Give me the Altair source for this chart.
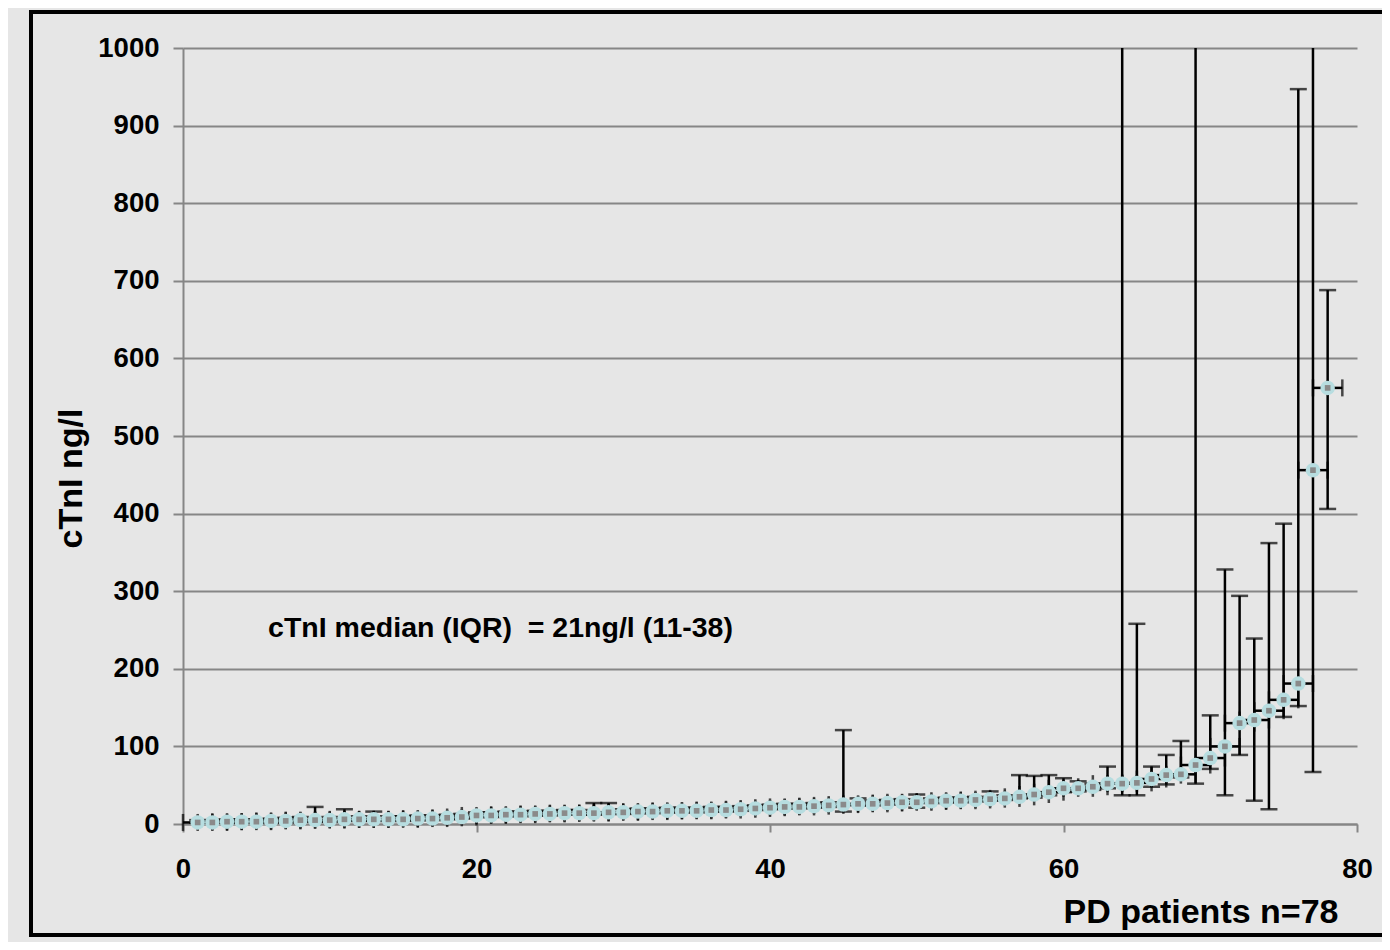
import altair as alt
import pandas as pd

# ---- data (sorted cTnI values per PD patient) ----
patients = list(range(1, 79))
ctni = [2, 2, 3, 3, 3, 4, 4, 5, 5, 5,
        6, 6, 6, 6, 6, 7, 7, 8, 9, 11,
        11, 12, 12, 13, 13, 14, 14, 14, 15, 15,
        16, 16, 17, 17, 17, 18, 18, 19, 20, 21,
        22, 22, 23, 24, 25, 26, 26, 27, 28, 28,
        29, 30, 30, 31, 32, 33, 35, 38, 41, 46,
        46, 48, 52, 52, 53, 58, 63, 64, 76, 85,
        100, 130, 134, 146, 160, 181, 456, 562]
err_low = [0, 0, 1, 1, 1, 2, 2, 3, 3, 3,
           4, 4, 4, 4, 4, 5, 5, 6, 7, 9,
           9, 10, 10, 11, 11, 12, 12, 12, 13, 13,
           14, 14, 15, 15, 15, 16, 16, 17, 18, 19,
           20, 20, 21, 22, 16, 24, 24, 25, 26, 21,
           27, 28, 28, 29, 30, 31, 33, 34, 37, 41,
           42, 44, 46, 37, 37, 48, 51, 60, 52, 71,
           37, 89, 30, 19, 138, 152, 67, 406]
err_high = [5, 5, 6, 6, 6, 7, 8, 9, 22, 9,
            19, 10, 16, 10, 10, 11, 11, 12, 13, 15,
            15, 16, 16, 17, 17, 18, 18, 27, 27, 19,
            20, 20, 21, 21, 21, 22, 22, 23, 24, 25,
            26, 26, 27, 28, 121, 33, 30, 31, 32, 38,
            33, 34, 34, 35, 42, 37, 63, 62, 63, 59,
            55, 52, 74, 1500, 258, 74, 89, 107, 1500, 140,
            328, 294, 239, 362, 387, 947, 1500, 688]
x_error = 1  # fixed horizontal error bar (patients)

y_ticks = [0, 100, 200, 300, 400, 500, 600, 700, 800, 900, 1000]
x_ticks = [0, 20, 40, 60, 80]
annotation = "cTnI median (IQR) \u00a0= 21ng/l (11-38)"

df = pd.DataFrame({"patient": patients, "ctni": ctni,
                   "lo": err_low, "hi": err_high})

FONT = "Liberation Sans"
GRID = "#868686"
BLUE = "#b7dde0"
BW = 2.5

xs = alt.Scale(domain=[0, 80], nice=False, zero=False)
ys = alt.Scale(domain=[0, 1000], nice=False)

x_axis = alt.Axis(values=x_ticks, title="PD patients n=78", grid=False,
                  tickSize=8, labelPadding=23, labelFlush=False,
                  labelOverlap=False, titleAlign="right",
                  titleBaseline="alphabetic", titleX=1155, titleY=98,
                  titleFontSize=34, titleFontWeight="bold", titleAngle=0)
y_axis = alt.Axis(values=y_ticks, title="cTnI ng/l", grid=True, format="d",
                  tickSize=10, labelPadding=14, labelFlush=False,
                  labelOverlap=False, titleAngle=270,
                  titleAlign="center", titleBaseline="middle",
                  titleX=-112, titleY=430, titleFontSize=34,
                  titleFontWeight="bold")

base = alt.Chart(df)

frame = base.mark_rect(filled=False, stroke="black", strokeWidth=3,
                       clip=False).encode(
    x=alt.value(-152), x2=alt.value(1215),
    y=alt.value(-36), y2=alt.value(887))

xbar = base.transform_calculate(
    xlo=f"datum.patient - {x_error}", xhi=f"datum.patient + {x_error}"
)
hbar = xbar.mark_rule(color="black", strokeWidth=BW).encode(
    x=alt.X("xlo:Q", scale=xs, axis=x_axis),
    x2="xhi:Q",
    y=alt.Y("ctni:Q", scale=ys, axis=y_axis))
hcap_l = xbar.mark_tick(color="black", orient="vertical", size=17,
                        thickness=BW).encode(
    x=alt.X("xlo:Q", scale=xs, axis=x_axis),
    y=alt.Y("ctni:Q", scale=ys, axis=y_axis))
hcap_r = xbar.mark_tick(color="black", orient="vertical", size=17,
                        thickness=BW).encode(
    x=alt.X("xhi:Q", scale=xs, axis=x_axis),
    y=alt.Y("ctni:Q", scale=ys, axis=y_axis))

vbar = base.mark_rule(color="black", strokeWidth=BW, clip=True).encode(
    x=alt.X("patient:Q", scale=xs, axis=x_axis),
    y=alt.Y("lo:Q", scale=ys, axis=y_axis),
    y2="hi:Q")
vcap_lo = base.mark_tick(color="black", orient="horizontal", size=17,
                         thickness=BW, clip=True).encode(
    x=alt.X("patient:Q", scale=xs, axis=x_axis),
    y=alt.Y("lo:Q", scale=ys, axis=y_axis))
vcap_hi = base.mark_tick(color="black", orient="horizontal", size=17,
                         thickness=BW, clip=True).encode(
    x=alt.X("patient:Q", scale=xs, axis=x_axis),
    y=alt.Y("hi:Q", scale=ys, axis=y_axis))

marker = base.mark_point(shape="circle", filled=True, color=BLUE,
                         size=210, opacity=1).encode(
    x=alt.X("patient:Q", scale=xs, axis=x_axis),
    y=alt.Y("ctni:Q", scale=ys, axis=y_axis))
marker_c = base.mark_point(shape="square", filled=True, color="#8a8a8a",
                           size=32, opacity=1).encode(
    x=alt.X("patient:Q", scale=xs, axis=x_axis),
    y=alt.Y("ctni:Q", scale=ys, axis=y_axis))

note = alt.Chart(pd.DataFrame({"t": [annotation]})).mark_text(
    align="left", baseline="middle", font=FONT, fontSize=28.5,
    fontWeight="bold", color="black").encode(
    x=alt.datum(5.8, scale=xs), y=alt.datum(253, scale=ys), text="t:N")

chart = alt.layer(frame, hbar, hcap_l, hcap_r, vbar, vcap_lo, vcap_hi,
                  marker, marker_c, note).properties(
    width=1174, height=776,
    autosize=alt.AutoSizeParams(type="none"),
    padding={"left": 175, "top": 40, "right": 25, "bottom": 118},
    background="#e6e6e6",
).configure_view(stroke=None).configure_axis(
    labelFont=FONT, titleFont=FONT, labelFontSize=27.5, labelFontWeight="bold",
    labelColor="black", titleColor="black",
    domainColor=GRID, domainWidth=2, tickColor=GRID, tickWidth=2,
    gridColor=GRID, gridWidth=2,
)

chart.save("out.html", embed_options={"renderer": "svg", "actions": False})
